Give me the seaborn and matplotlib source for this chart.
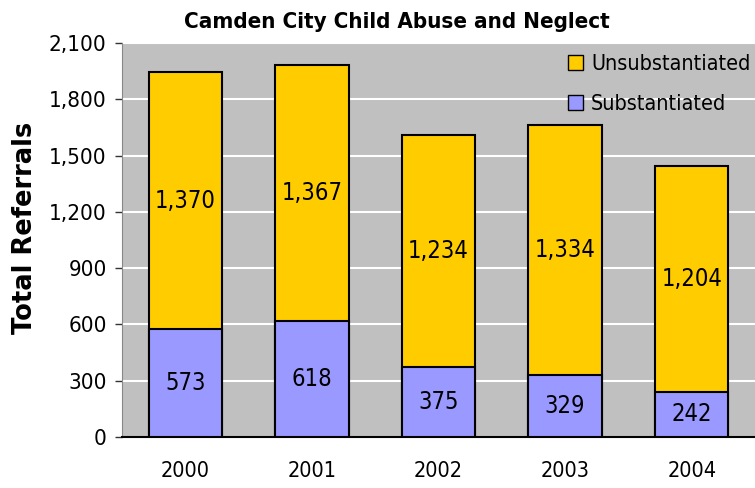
import numpy as np
import pandas as pd
import matplotlib
matplotlib.use("Agg")
import matplotlib.pyplot as plt
import seaborn as sns
from matplotlib.patches import Patch

years = ["2000", "2001", "2002", "2003", "2004"]
substantiated = [573, 618, 375, 329, 242]
unsubstantiated = [1370, 1367, 1234, 1334, 1204]

df = pd.DataFrame({"year": years, "sub": substantiated, "unsub": unsubstantiated})
df["total"] = df["sub"] + df["unsub"]

sns.set_style("white")
plt.rcParams['font.family'] = ['DejaVu Sans']
plt.rcParams['font.stretch'] = 'condensed'
for k in ["text.color", "axes.labelcolor", "xtick.color", "ytick.color"]:
    plt.rcParams[k] = "black"

fig = plt.figure(figsize=(7.55, 4.88), dpi=100)
ax = fig.add_axes([0.1616, 0.1045, 0.8384, 0.8075])
ax.set_facecolor("#C0C0C0")

yellow = "#FFCC00"
purple = "#9999FF"

sns.barplot(x="year", y="total", data=df, color=yellow, edgecolor="black",
            linewidth=1.5, width=0.58, saturation=1, ax=ax, zorder=3)
sns.barplot(x="year", y="sub", data=df, color=purple, edgecolor="black",
            linewidth=1.5, width=0.58, saturation=1, ax=ax, zorder=4)

for i, row in df.iterrows():
    ax.text(i, row["sub"] + row["unsub"] / 2, f"{row['unsub']:,}", ha="center", va="center",
            fontsize=17, zorder=5)
    ax.text(i, row["sub"] / 2, f"{row['sub']:,}", ha="center", va="center",
            fontsize=17, zorder=5)

ax.set_ylim(0, 2100)
ax.set_xlim(-0.5, 4.5)
ax.set_yticks(np.arange(0, 2101, 300))
ax.set_yticklabels([f"{v:,}" for v in range(0, 2101, 300)], fontsize=16)
ax.tick_params(axis="x", labelsize=15.5, length=0, pad=17)
ax.tick_params(axis="y", left=True, length=5, width=1, color="#333333", pad=6)
ax.yaxis.grid(True, color="white", linewidth=1.5, zorder=0)
ax.set_axisbelow(True)
for s in ["top", "right"]:
    ax.spines[s].set_visible(False)
ax.spines["left"].set_color("#888888")
ax.spines["bottom"].set_color("black")
ax.spines["bottom"].set_linewidth(1.5)

ax.set_xlabel("")
ax.set_ylabel("Total Referrals", fontsize=18.5, fontweight="bold", fontstretch="normal")
ax.yaxis.set_label_coords(-0.133, 0.53)

fig.text(0.526, 0.955, "Camden City Child Abuse and Neglect", fontsize=16,
         fontweight="bold", ha="center", va="center")

handles = [Patch(facecolor=yellow, edgecolor="black", label="Unsubstantiated"),
           Patch(facecolor=purple, edgecolor="black", label="Substantiated")]
leg = ax.legend(handles=handles, loc="upper right", frameon=False, fontsize=15.5,
                handlelength=0.7, handleheight=0.7, handletextpad=0.4,
                labelspacing=0.95, borderaxespad=0.1, bbox_to_anchor=(1.01, 1.0))

fig.savefig("out.png", dpi=100)
